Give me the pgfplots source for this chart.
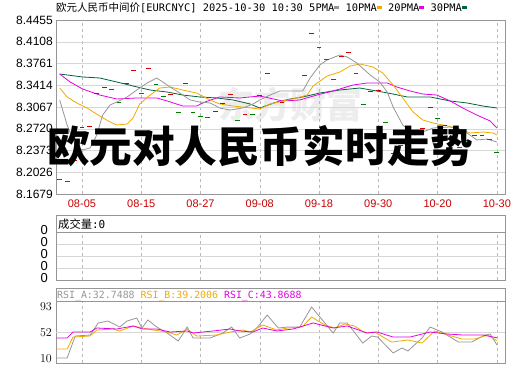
\documentclass[border=0pt]{standalone}
\usepackage{pgfplots}
\pgfplotsset{compat=1.18}
\usepackage{fontspec}
\setmainfont{Liberation Sans}
\newfontfamily\cjk{Noto Sans CJK SC}
\newfontfamily\mono{DejaVu Sans Mono}
\definecolor{framecol}{RGB}{150,150,150}
\definecolor{gridh}{RGB}{215,215,215}
\definecolor{gridv}{RGB}{185,185,185}
\definecolor{upred}{RGB}{215,0,0}
\definecolor{downgreen}{RGB}{0,125,0}
\definecolor{ma5}{RGB}{150,150,150}
\definecolor{ma10}{RGB}{240,170,0}
\definecolor{ma20}{RGB}{230,0,230}
\definecolor{ma30}{RGB}{0,100,60}
\definecolor{ticklab}{RGB}{200,0,0}
\pgfplotsset{panel/.style={scale only axis, width=449pt, xmin=-0.5, xmax=60.1,
  axis line style={framecol}, major tick length=0pt, minor tick length=0pt,
  xtick={3,11,19,27,35,43,51,59}, xmajorgrids,
  major x grid style={gridv, dash pattern=on 3pt off 3pt}, anchor=south west}}
\newcommand{\sq}[1]{\textcolor{#1}{\rule[2.5pt]{5pt}{3.5pt}}}
\begin{document}
\begin{tikzpicture}[x=1pt,y=1pt]
\useasboundingbox (0,0) rectangle (520,365);
% watermark
\node[font=\cjk\fontsize{36}{36}\selectfont\bfseries, text=black!7] at (290,260) {东方财富};
% title
\node[anchor=base west, inner sep=0pt] at (56,353) {{\cjk\fontsize{10.5}{11}\selectfont 欧元人民币中间价}{\mono\fontsize{10.4}{11}\selectfont [EURCNYC] 2025-10-30 10:30 5PMA}\sq{ma5}{\mono\fontsize{10.4}{11}\selectfont\ 10PMA}\sq{ma10}{\mono\fontsize{10.4}{11}\selectfont\ 20PMA}\sq{ma20}{\mono\fontsize{10.4}{11}\selectfont\ 30PMA}\sq{ma30}};

\begin{axis}[panel, at={(56pt,171pt)}, height=174pt,
  ymin=8.1679, ymax=8.4455,
  ytick={8.1679,8.2026,8.2373,8.2720,8.3067,8.3414,8.3761,8.4108,8.4455},
  yticklabels={8.1679,8.2026,8.2373,8.2720,8.3067,8.3414,8.3761,8.4108,8.4455},
  ymajorgrids, major y grid style={gridh},
  xticklabels={08-05,08-15,08-27,09-08,09-18,09-30,10-20,10-30},
  xticklabel style={text=ticklab, font=\fontsize{11}{11}\selectfont, inner sep=0pt, anchor=north, yshift=-6pt},
  yticklabel style={font=\fontsize{12}{12}\selectfont, inner sep=0pt, anchor=east, xshift=-3pt}]
\addplot[only marks, mark=-, mark size=2.4pt, upred, mark options={line width=0.9pt}] coordinates {
(2,8.2221) (3,8.2748) (4,8.2764) (5,8.3290) (6,8.3386) (9,8.3450) (10,8.3657) (12,8.3689)
(15,8.3274) (17,8.3450) (21,8.3003) (22,8.3131) (23,8.3274) (25,8.2955) (27,8.3258) (28,8.3609)
(30,8.3147) (33,8.3578) (34,8.4248) (38,8.3881) (39,8.3945) (42,8.3322) (43,8.3338) (47,8.2620)
(49,8.2732) (50,8.3067) (52,8.2780) (56,8.2620) (57,8.2620)};
\addplot[only marks, mark=-, mark size=2.4pt, downgreen, mark options={line width=0.9pt}] coordinates {
(0,8.1918) (1,8.1886) (7,8.3354) (8,8.3147) (11,8.3290) (13,8.3434) (14,8.3242) (16,8.2987)
(18,8.2987) (19,8.2923) (20,8.2907) (24,8.2860) (26,8.2955) (35,8.4024) (36,8.3833) (37,8.3514)
(40,8.3609) (41,8.3115) (44,8.2828) (45,8.2333) (46,8.2461) (48,8.2540) (51,8.2892) (53,8.2600)
(54,8.2429) (55,8.2540) (58,8.2556) (59,8.2349)};
\addplot[ma30, line width=0.8pt] coordinates {
(0,8.3593) (3.1,8.3546) (5.4,8.3530) (7.7,8.3466) (9.9,8.3402) (12.2,8.3338) (14.5,8.3306)
(16.6,8.3258) (18.9,8.3227) (21.2,8.3211) (23.4,8.3179) (25.7,8.3115) (27.0,8.3051) (29.3,8.3147)
(31.1,8.3195) (32.8,8.3227) (35.1,8.3290) (37.8,8.3338) (40.5,8.3370) (42.8,8.3322) (45.0,8.3274)
(46.9,8.3227) (50.0,8.3227) (52.7,8.3163) (55.0,8.3131) (57.1,8.3083) (59.0,8.3051)};
\addplot[ma20, line width=0.8pt] coordinates {
(0,8.3593) (1.4,8.3466) (3.1,8.3354) (5.4,8.3258) (7.7,8.3195) (10.4,8.3211) (13.1,8.3211)
(14.5,8.3163) (16.6,8.3083) (18.5,8.3083) (19.6,8.3147) (21.6,8.3227) (24.3,8.3211) (27.0,8.3242)
(30.1,8.3163) (32.4,8.3179) (34.7,8.3258) (36.9,8.3322) (39.6,8.3418) (41.5,8.3450) (44.2,8.3450)
(45.5,8.3386) (47.3,8.3322) (49.0,8.3274) (50.9,8.3258) (52.7,8.3163) (54.4,8.3051) (56.3,8.2939)
(58.1,8.2844) (59.0,8.2732)};
\addplot[ma10, line width=0.8pt] coordinates {
(0,8.3370) (1.0,8.3227) (2.3,8.3131) (3.7,8.3051) (5.4,8.2923) (6.8,8.2828) (7.7,8.2780)
(9.1,8.2796) (9.9,8.2892) (10.8,8.3115) (12.2,8.3258) (13.5,8.3370) (14.9,8.3386) (16.6,8.3338)
(18.5,8.3290) (20.3,8.3179) (21.6,8.3115) (23.4,8.3083) (27.0,8.3035) (28.4,8.3115) (30.1,8.3163)
(32.0,8.3211) (33.4,8.3258) (34.2,8.3402) (36.1,8.3562) (37.8,8.3625) (39.2,8.3721) (40.5,8.3753)
(42.3,8.3705) (43.6,8.3609) (45.0,8.3418) (46.3,8.3211) (47.7,8.2987) (49.0,8.2860) (50.4,8.2812)
(51.7,8.2780) (53.6,8.2732) (55.4,8.2652) (57.1,8.2668) (58.5,8.2652) (59.0,8.2620)};
\addplot[ma5, line width=0.8pt] coordinates {
(0,8.3179) (0.4,8.3019) (1.0,8.2780) (2.1,8.2461) (3.0,8.2381) (4.1,8.2413) (5.0,8.2620)
(5.8,8.2939) (6.8,8.3099) (7.7,8.3147) (9.1,8.3227) (10.4,8.3338) (11.8,8.3450) (13.1,8.3530)
(13.9,8.3466) (14.9,8.3386) (16.2,8.3290) (17.6,8.3179) (18.9,8.3147) (20.3,8.3131) (21.6,8.3051)
(23.0,8.3019) (24.7,8.3051) (26.1,8.3115) (27.0,8.3179) (28.4,8.3258) (29.7,8.3322) (32.8,8.3322)
(33.8,8.3530) (35.1,8.3737) (36.1,8.3817) (37.8,8.3897) (38.8,8.3865) (40.1,8.3769) (41.9,8.3578)
(43.2,8.3466) (44.2,8.3306) (45.0,8.3067) (46.3,8.2780) (47.9,8.2620) (50.4,8.2732) (52.7,8.2748)
(54.4,8.2700) (56.3,8.2541) (57.7,8.2556) (59.0,8.2509)};
\end{axis}

% volume panel
\draw[framecol] (56,133) rectangle (505,150);
\node[anchor=base west, inner sep=0pt] at (58,137) {{\cjk\fontsize{11.3}{12}\selectfont 成交量}{\mono\fontsize{11}{12}\selectfont :0}};
\begin{axis}[panel, at={(56pt,85pt)}, height=48pt, ymin=0, ymax=4,
  ytick={0,1,2,3,4}, yticklabels={0,0,0,0,0}, ymajorgrids, major y grid style={gridh},
  xticklabels={},
  yticklabel style={font=\fontsize{13}{13}\selectfont, inner sep=0pt, anchor=east, xshift=-8pt, yshift=2pt}]
\end{axis}

% RSI panel
\draw[framecol] (56,64) rectangle (505,77);
\node[anchor=base west, inner sep=0pt] at (57,66.5) {\mono\fontsize{9.9}{11}\selectfont\textcolor{ma5}{RSI\_A:32.7488} \textcolor{ma10}{RSI\_B:39.2006} \textcolor{ma20}{RSI\_C:43.8688}};
\begin{axis}[panel, at={(56pt,2pt)}, height=62pt, ymin=3.6, ymax=102.6,
  ytick={10,52,93}, xticklabels={},
  extra y ticks={52}, extra y tick labels={}, extra y tick style={grid=major, major grid style={gridh}},
  yticklabel style={font=\fontsize{12}{12}\selectfont, inner sep=0pt, anchor=east, xshift=-4pt}]
\addplot[ma5, line width=0.8pt] coordinates {
(-0.4,11.6) (1.0,11.6) (2.1,46.7) (4.1,48.3) (5.2,67.5) (6.5,70.7) (8.1,61.1) (9.1,70.7)
(10.4,75.4) (11.1,59.5) (11.9,72.3) (13.1,61.1) (14.5,51.5) (16.0,38.7) (17.2,61.1) (18.0,43.5)
(20.3,43.5) (22.0,51.5) (23.2,61.1) (24.3,43.5) (25.7,49.9) (26.6,59.5) (28.0,80.2) (29.5,59.5)
(30.8,61.1) (32.4,61.1) (34.0,93.0) (36.9,51.5) (37.8,67.5) (38.8,67.5) (40.9,35.5) (42.1,46.7)
(42.9,45.1) (45.0,19.6) (46.2,27.6) (47.0,22.8) (48.9,43.5) (50.0,61.1) (51.6,53.1) (53.8,37.1)
(55.6,37.1) (57.4,48.3) (58.1,49.9) (59.0,32.7)};
\addplot[ma10, line width=0.8pt] coordinates {
(-0.4,26.0) (1.0,26.0) (1.8,45.1) (4.1,46.7) (5.0,56.3) (7.2,57.9) (8.1,54.7) (9.9,62.7)
(11.2,59.5) (12.6,56.3) (14.5,53.1) (15.8,48.3) (17.2,57.9) (18.5,46.7) (21.2,48.3) (23.0,53.1)
(24.7,56.3) (25.7,53.1) (27.4,64.3) (29.3,56.3) (30.8,59.5) (32.7,61.1) (34.0,77.0) (35.8,64.3)
(37.1,59.5) (38.5,65.9) (39.8,62.7) (41.2,51.5) (42.5,53.1) (44.8,37.1) (47.0,40.3) (48.9,35.5)
(50.6,54.7) (52.4,48.3) (54.3,41.9) (56.0,41.9) (57.8,48.3) (59.0,39.2)};
\addplot[ma20, line width=0.8pt] coordinates {
(-0.4,43.5) (1.0,43.5) (1.8,53.1) (4.1,53.1) (5.0,59.5) (7.7,57.9) (9.9,62.7) (11.2,57.9)
(13.1,57.9) (14.9,53.1) (17.2,54.7) (18.0,51.5) (20.7,54.7) (23.0,57.9) (24.3,54.7) (26.1,53.1)
(27.4,59.5) (29.3,54.7) (31.5,57.9) (34.2,67.5) (36.9,59.5) (38.8,62.7) (41.5,51.5) (42.8,53.1)
(45.0,45.1) (47.3,45.1) (50.0,53.1) (52.3,49.9) (54.4,48.3) (57.1,48.3) (59.0,43.9)};
\end{axis}

% overlay title
\node[font=\cjk\fontsize{42.6}{43}\selectfont\bfseries, text=black, inner sep=0pt] at (260,218.5) {欧元对人民币实时走势};
\end{tikzpicture}
\end{document}
